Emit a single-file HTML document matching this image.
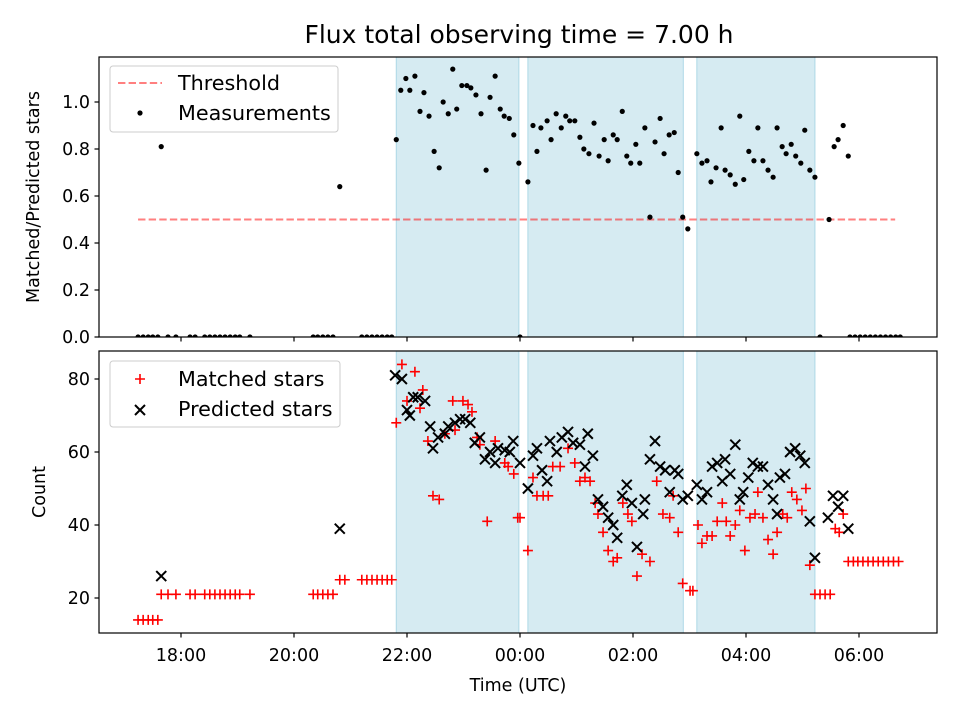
<!DOCTYPE html>
<html><head><meta charset="utf-8"><style>
body{margin:0;background:#fff}
svg text{font-family:"DejaVu Sans","Liberation Sans",sans-serif;fill:#000}
</style></head><body>
<svg id="chart" width="960" height="720" xmlns="http://www.w3.org/2000/svg">
<rect width="960" height="720" fill="#fff"/>
<g id="g"></g>
</svg>
<script>
const ratioT=[17.24,17.33,17.42,17.50,17.59,17.65,17.77,17.91,18.16,18.25,18.42,18.51,18.60,18.69,18.78,18.87,18.96,19.04,19.22,20.34,20.42,20.51,20.60,20.69,20.81,21.20,21.29,21.38,21.47,21.56,21.65,21.73,
21.81,21.89,21.98,22.05,22.14,22.23,22.30,22.39,22.48,22.57,22.64,22.73,22.81,22.88,22.97,23.06,23.13,23.22,23.31,23.40,23.47,23.56,23.65,23.72,23.81,23.89,23.98,24.00,
24.14,24.23,24.30,24.37,24.48,24.55,24.64,24.73,24.81,24.88,24.97,25.06,25.13,25.22,25.31,25.40,25.49,25.56,25.65,25.72,25.81,25.89,25.96,26.05,26.12,26.21,26.30,26.39,26.48,26.55,26.64,26.73,26.80,26.88,26.97,
27.13,27.22,27.31,27.38,27.47,27.56,27.63,27.72,27.81,27.89,27.96,28.05,28.14,28.21,28.30,28.39,28.48,28.55,28.64,28.71,28.80,28.88,28.97,29.04,29.13,29.22,29.31,29.47,29.56,29.63,29.72,29.81,
29.84,29.93,30.02,30.11,30.20,30.29,30.38,30.47,30.56,30.65,30.73];
const ratioV=[0,0,0,0,0,0.81,0,0,0,0,0,0,0,0,0,0,0,0,0,0,0,0,0,0,0.64,0,0,0,0,0,0,0,
0.84,1.05,1.10,1.05,1.11,0.96,1.04,0.94,0.79,0.72,1.00,0.95,1.14,0.97,1.07,1.07,1.06,1.03,0.95,0.71,1.02,1.11,0.97,0.94,0.93,0.86,0.74,0,
0.66,0.90,0.79,0.89,0.92,0.84,0.95,0.89,0.94,0.92,0.92,0.85,0.80,0.78,0.91,0.77,0.84,0.75,0.86,0.84,0.96,0.77,0.74,0.82,0.74,0.89,0.51,0.83,0.93,0.78,0.86,0.87,0.70,0.51,0.46,
0.78,0.74,0.75,0.66,0.72,0.89,0.71,0.69,0.65,0.94,0.67,0.79,0.75,0.89,0.75,0.71,0.68,0.89,0.81,0.78,0.82,0.77,0.74,0.88,0.71,0.68,0,0.50,0.81,0.84,0.90,0.77,
0,0,0,0,0,0,0,0,0,0,0];
const matchT=[17.24,17.33,17.42,17.50,17.59,17.65,17.77,17.91,18.16,18.25,18.42,18.51,18.60,18.69,18.78,18.87,18.96,19.04,19.22,20.34,20.42,20.51,20.60,20.69,20.81,20.90,21.20,21.29,21.38,21.47,21.56,21.65,21.73,
21.81,21.91,22.00,22.14,22.23,22.28,22.37,22.46,22.57,22.67,22.81,22.85,22.99,23.08,23.15,23.24,23.29,23.42,23.56,23.73,23.79,23.89,23.96,24.00,24.14,24.23,24.30,24.41,24.50,24.58,24.71,24.85,24.97,25.06,25.15,25.24,25.33,25.38,25.47,25.56,25.65,25.72,25.82,25.91,25.98,26.07,26.16,26.30,26.42,26.53,26.65,26.71,26.80,26.88,27.01,27.06,
27.15,27.22,27.31,27.40,27.49,27.58,27.65,27.72,27.81,27.89,27.98,28.07,28.16,28.21,28.30,28.39,28.48,28.55,28.65,28.73,28.81,28.90,28.99,29.06,29.13,29.22,29.31,29.40,29.49,29.58,29.65,29.72,
29.81,29.90,29.98,30.07,30.16,30.25,30.34,30.43,30.52,30.61,30.70];
const matchV=[14,14,14,14,14,21,21,21,21,21,21,21,21,21,21,21,21,21,21,21,21,21,21,21,25,25,25,25,25,25,25,25,25,
68,84,74,82,72,77,63,48,47,65,74,66,74,73,71,64,62,41,63,57,56,54,42,42,33,53,48,48,48,56,56,61,57,52,53,52,46,43,38,33,30,31,46,43,41,26,32,30,52,43,42,48,38,24,22,22,
40,35,37,37,41,46,41,37,40,44,33,42,43,49,42,36,32,38,43,42,49,47,44,50,29,21,21,21,21,39,38,43,
30,30,30,30,30,30,30,30,30,30,30];
const predT=[17.65,20.81,21.79,21.91,22.00,22.05,22.11,22.19,22.32,22.41,22.46,22.55,22.67,22.73,22.85,22.94,23.03,23.12,23.20,23.29,23.38,23.47,23.56,23.61,23.73,23.82,23.88,24.00,
24.14,24.23,24.30,24.39,24.48,24.53,24.65,24.74,24.85,24.94,25.06,25.15,25.20,25.29,25.38,25.47,25.56,25.65,25.72,25.81,25.89,25.98,26.07,26.18,26.21,26.30,26.39,26.48,26.57,26.65,26.74,26.80,26.88,26.97,
27.13,27.22,27.31,27.40,27.49,27.58,27.63,27.72,27.81,27.89,27.95,28.04,28.12,28.21,28.30,28.39,28.48,28.55,28.60,28.69,28.78,28.87,28.96,29.04,29.13,29.22,29.45,29.54,29.63,29.72,29.81];
const predV=[26,39,81,80,71.5,70,75,75,74,67,61,64,65,67,68,69,69,68,62.5,64,58,60,57,61,60.5,60,63,57,
50,59,61,55,52,63,60,64,65.5,62.5,62,56,65,59,47,45,42,40,36.5,48,51,46,34,43,47,58,63,56,55,49,55,54,47,48,
51,47,49,56,57,52,58,54,62,47,49,53,57,56,56,51,47,43,53,54,60,61,59,57,41,31,42,48,45,48,39];
const spanStart=[21.81,24.14,27.13];
const spanEnd=[23.98,26.89,29.22];
const tickHours=[18,20,22,24,26,28,30];
const tickLabels=["18:00","20:00","22:00","00:00","02:00","04:00","06:00"];
const ratioTicks=[0,0.2,0.4,0.6,0.8,1.0];
const countTicks=[20,40,60,80];
const threshold=[0.5];
const threshRange=[17.24,30.64];

const NS="http://www.w3.org/2000/svg";
const G=document.getElementById('g');
const X=h=>181+(h-18)*56.5;
const Y1=v=>337-v*235;
const Y2=c=>598-(c-20)*3.65;
const FT=17.5, FL=20.7;
function mk(tag,attrs,parent){const e=document.createElementNS(NS,tag);for(const k in attrs)e.setAttribute(k,attrs[k]);(parent||G).appendChild(e);return e;}
function txt(s,x,y,attrs){const e=mk('text',Object.assign({x:x,y:y,'font-size':FT},attrs||{}));e.textContent=s;return e;}

const t=txt('Flux total observing time = 7.00 h',519,43,{'font-size':25,'text-anchor':'middle'});



const panels=[{top:57,bot:337,name:'ratio'},{top:351,bot:633,name:'count'}];
panels.forEach((p,pi)=>{
  const cg=mk('g',{});
  
  
  const clipId='clip'+pi;
  const cp=mk('clipPath',{id:clipId},cg);mk('rect',{x:99,y:p.top,width:838,height:p.bot-p.top},cp);
  spanStart.forEach((s,i)=>{
    const r=mk('rect',{x:X(s),y:p.top,width:X(spanEnd[i])-X(s),height:p.bot-p.top,fill:'#add8e6','fill-opacity':0.5,stroke:'#add8e6','stroke-width':1},cg);
    
    
  });
  p.g=mk('g',{'clip-path':'url(#'+clipId+')'},cg);
});

const th=mk('line',{x1:X(threshRange[0]),x2:X(threshRange[1]),y1:Y1(threshold[0]),y2:Y1(threshold[0]),stroke:'#ff0000','stroke-opacity':0.5,'stroke-width':2,'stroke-dasharray':'7.4,3.2'},panels[0].g);


ratioT.forEach((h,i)=>{
  const c=mk('circle',{cx:X(h),cy:Y1(ratioV[i]),r:2.6,fill:'#000'},panels[0].g);
  
  
});
matchT.forEach((h,i)=>{
  const x=X(h),y=Y2(matchV[i]);
  const m=mk('path',{d:`M${x-5},${y}H${x+5}M${x},${y-5}V${y+5}`,stroke:'#ff0000','stroke-width':1.6,fill:'none'},panels[1].g);
  
  
});
predT.forEach((h,i)=>{
  const x=X(h),y=Y2(predV[i]);
  const m=mk('path',{d:`M${x-5},${y-5}L${x+5},${y+5}M${x-5},${y+5}L${x+5},${y-5}`,stroke:'#000','stroke-width':2,fill:'none'},panels[1].g);
  
  
});

panels.forEach((p,pi)=>{
  const f=mk('rect',{x:99,y:p.top,width:838,height:p.bot-p.top,fill:'none',stroke:'#000','stroke-width':1.2});
  
  
  tickHours.forEach((h,i)=>{
    mk('line',{x1:X(h),x2:X(h),y1:p.bot,y2:p.bot+4.5,stroke:'#000','stroke-width':1.2});
    if(pi===1){
      const l=txt(tickLabels[i],X(h),p.bot+28,{'text-anchor':'middle'});
      
      
    }
  });
});
ratioTicks.forEach(v=>{
  mk('line',{x1:94.5,x2:99,y1:Y1(v),y2:Y1(v),stroke:'#000','stroke-width':1.2});
  const l=txt(v.toFixed(1),90,Y1(v)+6,{'text-anchor':'end'});
  
  
});
countTicks.forEach(v=>{
  mk('line',{x1:94.5,x2:99,y1:Y2(v),y2:Y2(v),stroke:'#000','stroke-width':1.2});
  const l=txt(String(v),90,Y2(v)+6,{'text-anchor':'end'});
  
  
});
let a=txt('Matched/Predicted stars',0,0,{'text-anchor':'middle',transform:'translate(39,197) rotate(-90)'});


a=txt('Count',0,0,{'text-anchor':'middle',transform:'translate(45,492) rotate(-90)'});


a=txt('Time (UTC)',518,691,{'text-anchor':'middle'});



let lg=mk('g',{});


mk('rect',{x:110,y:66,width:228,height:66,rx:3,fill:'#fff','fill-opacity':0.8,stroke:'#ccc'},lg);
mk('line',{x1:118,x2:162,y1:83,y2:83,stroke:'#ff0000','stroke-opacity':0.5,'stroke-width':2,'stroke-dasharray':'7.4,3.2'},lg);
let e=txt('Threshold',178,90,{'font-size':FL});lg.appendChild(e);


mk('circle',{cx:140,cy:113,r:2.6,fill:'#000'},lg);
e=txt('Measurements',178,120,{'font-size':FL});lg.appendChild(e);



lg=mk('g',{});


mk('rect',{x:110,y:361,width:230,height:66,rx:3,fill:'#fff','fill-opacity':0.8,stroke:'#ccc'},lg);
mk('path',{d:'M135,379H145M140,374V384',stroke:'#ff0000','stroke-width':1.6},lg);
e=txt('Matched stars',178,386,{'font-size':FL});lg.appendChild(e);


mk('path',{d:'M135,405L145,415M135,415L145,405',stroke:'#000','stroke-width':2},lg);
e=txt('Predicted stars',178,416,{'font-size':FL});lg.appendChild(e);


</script>
</body></html>
